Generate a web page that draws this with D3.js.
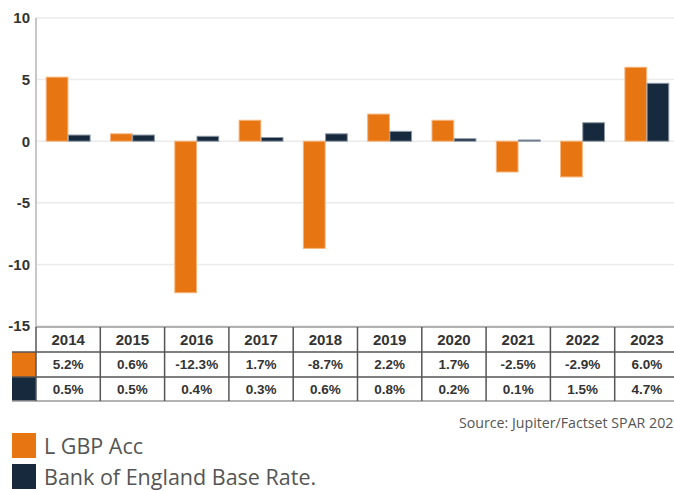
<!DOCTYPE html>
<html>
<head>
<meta charset="utf-8">
<script src="https://cdn.jsdelivr.net/npm/d3@7"></script>
<style>
  body { margin: 0; background: #fff; overflow: hidden; }
  svg { display: block; }
</style>
</head>
<body>
<div id="chart"></div>
<script>
var years = ["2014", "2015", "2016", "2017", "2018", "2019", "2020", "2021", "2022", "2023"];
var fundValues = [5.2, 0.6, -12.3, 1.7, -8.7, 2.2, 1.7, -2.5, -2.9, 6.0];
var baseRateValues = [0.5, 0.5, 0.4, 0.3, 0.6, 0.8, 0.2, 0.1, 1.5, 4.7];
var seriesNames = ["L GBP Acc", "Bank of England Base Rate."];
var yTicks = [10, 5, 0, -5, -10, -15];
var sourceText = "Source: Jupiter/Factset SPAR 2023";

var colors = ["#e67512", "#16293d"];
var strokes = ["#f6b47c", "#8d99a6"];

var W = 674, H = 491;
var plotLeft = 36, plotRight = 679;

var svg = d3.select("#chart")
    .append("svg")
    .attr("width", W)
    .attr("height", H);

// scales
var x = d3.scaleBand()
    .domain(years)
    .range([plotLeft, plotRight])
    .padding(0);

var x1 = d3.scaleBand()
    .domain([0, 1])
    .range([0, x.bandwidth()])
    .paddingInner(0.02)
    .paddingOuter(0.46);

var y = d3.scaleLinear()
    .domain([-15, 10])
    .range([326, 18]);

// gridlines
svg.append("g")
    .selectAll("line")
    .data(yTicks)
    .enter()
    .append("line")
    .attr("x1", plotLeft)
    .attr("x2", W)
    .attr("y1", function(d) { return y(d); })
    .attr("y2", function(d) { return y(d); })
    .attr("stroke", "#ebebeb")
    .attr("stroke-width", 1.5);

// y labels
svg.append("g")
    .selectAll("text")
    .data(yTicks)
    .enter()
    .append("text")
    .attr("x", 30)
    .attr("y", function(d) { return y(d); })
    .attr("dy", "0.36em")
    .attr("text-anchor", "end")
    .style("font-family", "'Liberation Sans', Arial, sans-serif")
    .style("font-weight", "bold")
    .style("font-size", "15px")
    .style("fill", "#333")
    .text(function(d) { return d; });

// bars
var rows = years.map(function(yr, i) {
    return { year: yr, vals: [fundValues[i], baseRateValues[i]] };
});

var groups = svg.append("g")
    .selectAll("g")
    .data(rows)
    .enter()
    .append("g")
    .attr("transform", function(d) { return "translate(" + x(d.year) + ",0)"; });

groups.selectAll("rect")
    .data(function(d) { return d.vals.map(function(v, k) { return { k: k, v: v }; }); })
    .enter()
    .append("rect")
    .attr("x", function(d) { return x1(d.k); })
    .attr("width", x1.bandwidth())
    .attr("y", function(d) { return y(Math.max(0, d.v)); })
    .attr("height", function(d) { return Math.abs(y(d.v) - y(0)); })
    .attr("fill", function(d) { return colors[d.k]; })
    .attr("stroke", function(d) { return strokes[d.k]; })
    .attr("stroke-width", 1);

// y axis line
svg.append("line")
    .attr("x1", plotLeft)
    .attr("x2", plotLeft)
    .attr("y1", y(10))
    .attr("y2", 327)
    .attr("stroke", "#b5b5b5")
    .attr("stroke-width", 1.5);

// data table
var rowTops = [327, 352, 377, 401];
var table = svg.append("g");

// swatches in first column
[0, 1].forEach(function(k) {
    table.append("rect")
        .attr("x", 12)
        .attr("y", rowTops[k + 1])
        .attr("width", plotLeft - 12)
        .attr("height", rowTops[k + 2] - rowTops[k + 1])
        .attr("fill", colors[k]);
});

// horizontal lines
table.selectAll(".hline")
    .data(rowTops)
    .enter()
    .append("line")
    .attr("class", "hline")
    .attr("x1", function(d, i) { return i === 0 ? plotLeft : 12; })
    .attr("x2", W)
    .attr("y1", function(d) { return d; })
    .attr("y2", function(d) { return d; })
    .attr("stroke", function(d, i) { return i === 0 || i === 3 ? "#999" : "#555"; })
    .attr("stroke-width", 1.5);

// vertical lines
table.selectAll(".vline")
    .data(years)
    .enter()
    .append("line")
    .attr("class", "vline")
    .attr("x1", function(d) { return x(d); })
    .attr("x2", function(d) { return x(d); })
    .attr("y1", rowTops[0])
    .attr("y2", rowTops[3])
    .attr("stroke", "#555")
    .attr("stroke-width", 1.5);

function fmt(v) { return v.toFixed(1) + "%"; }

var cellFont = "'Liberation Sans', Arial, sans-serif";

table.selectAll(".hdr")
    .data(years)
    .enter()
    .append("text")
    .attr("x", function(d) { return x(d) + x.bandwidth() / 2; })
    .attr("y", (rowTops[0] + rowTops[1]) / 2)
    .attr("dy", "0.36em")
    .attr("text-anchor", "middle")
    .style("font-family", cellFont)
    .style("font-weight", "bold")
    .style("font-size", "15px")
    .style("fill", "#333")
    .text(function(d) { return d; });

[fundValues, baseRateValues].forEach(function(vals, k) {
    table.selectAll(".val" + k)
        .data(vals)
        .enter()
        .append("text")
        .attr("x", function(d, i) { return x(years[i]) + x.bandwidth() / 2; })
        .attr("y", (rowTops[k + 1] + rowTops[k + 2]) / 2)
        .attr("dy", "0.36em")
        .attr("text-anchor", "middle")
        .style("font-family", cellFont)
        .style("font-weight", "bold")
        .style("font-size", "13.5px")
        .style("fill", "#333")
        .text(fmt);
});

// source
svg.append("text")
    .attr("x", 459)
    .attr("y", 428)
    .style("font-family", "'Open Sans', 'Noto Sans', sans-serif")
    .style("font-size", "14.2px")
    .style("fill", "#555")
    .text(sourceText);

// legend
var legend = svg.append("g")
    .selectAll("g")
    .data(seriesNames)
    .enter()
    .append("g")
    .attr("transform", function(d, i) { return "translate(12," + (433 + i * 31) + ")"; });

legend.append("rect")
    .attr("width", 24)
    .attr("height", 25)
    .attr("fill", function(d, i) { return colors[i]; });

legend.append("text")
    .attr("x", 32)
    .attr("y", 13)
    .attr("dy", "0.36em")
    .style("font-family", "'Open Sans', 'Noto Sans', sans-serif")
    .style("font-size", "21.5px")
    .style("fill", "#555")
    .text(function(d) { return d; });
</script>
</body>
</html>
